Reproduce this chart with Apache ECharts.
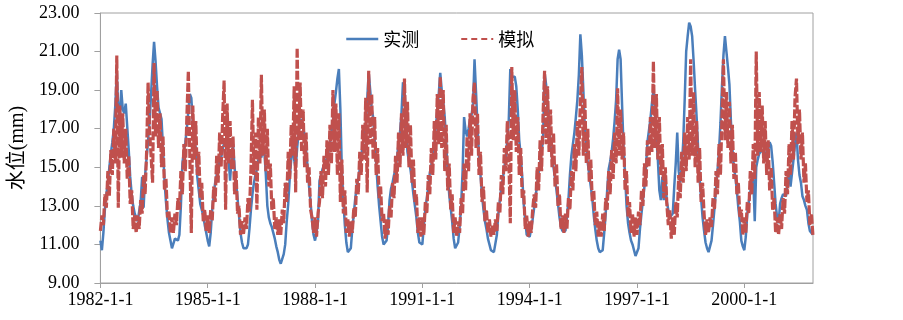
<!DOCTYPE html>
<html>
<head>
<meta charset="utf-8">
<script src="https://cdn.jsdelivr.net/npm/echarts@6/dist/echarts.min.js"></script>
<style>
  html, body { margin: 0; padding: 0; background: #fff; }
  #chart { width: 903px; height: 320px; }
</style>
</head>
<body>
<div id="chart"></div>
<script>
// half-month samples, 24 per year, starting 1982-1-1
const startYear = 1982;
const stepsPerYear = 24;

const xTicks = [1982, 1985, 1988, 1991, 1994, 1997, 2000];
const yTicks = [9, 11, 13, 15, 17, 19, 21, 23];

// 实测 (observed)
const observed = [
  11.2, 10.7, 11.6, 12.8, 13.6, 14.2, 15.0, 15.7, 16.3, 17.0, 18.2, 19.9, 18.0, 17.6, 19.0, 18.0, 17.8, 18.3, 17.1, 15.9, 14.5, 13.6, 13.0, 12.6, // 1982
  12.5, 12.2, 12.3, 13.2, 14.5, 12.9, 14.6, 15.5, 16.4, 17.4, 18.8, 20.3, 21.5, 20.5, 19.2, 18.1, 17.8, 17.5, 16.0, 14.3, 13.2, 12.3, 11.6, 11.2, // 1983
  10.8, 10.9, 11.3, 11.4, 11.2, 11.5, 13.0, 15.2, 15.8, 16.3, 17.0, 17.9, 18.8, 18.6, 17.3, 16.4, 16.0, 14.5, 13.8, 13.1, 12.8, 12.5, 12.0, 11.6, // 1984
  11.2, 10.9, 11.6, 12.8, 13.6, 14.2, 14.6, 15.0, 15.3, 15.5, 15.9, 16.3, 16.5, 16.3, 15.5, 14.3, 15.5, 16.2, 15.0, 14.3, 13.4, 12.5, 11.6, 11.1, // 1985
  10.8, 10.7, 10.8, 11.0, 11.8, 12.8, 13.6, 14.2, 14.6, 14.9, 15.4, 15.8, 15.5, 16.1, 15.8, 14.6, 13.0, 12.4, 12.1, 11.9, 11.6, 11.3, 10.9, 10.6, // 1986
  10.2, 10.0, 10.1, 10.5, 11.0, 12.2, 13.1, 14.4, 15.4, 16.2, 15.4, 14.9, 16.0, 16.8, 17.3, 17.5, 17.1, 16.6, 15.9, 15.0, 14.0, 13.2, 12.2, 11.5, // 1987
  11.2, 11.6, 12.2, 14.3, 14.6, 14.9, 15.1, 15.3, 15.5, 15.8, 16.2, 16.8, 17.4, 18.3, 18.9, 19.6, 20.1, 18.0, 14.8, 13.3, 12.0, 11.1, 10.6, 10.5, // 1988
  10.8, 11.8, 12.6, 13.4, 14.0, 14.4, 14.9, 15.5, 16.2, 16.6, 17.0, 18.5, 19.9, 19.0, 18.0, 17.6, 16.4, 15.2, 14.0, 13.0, 12.2, 11.4, 11.0, 10.9, // 1989
  11.2, 12.0, 13.3, 13.9, 14.2, 14.6, 14.9, 15.5, 16.2, 16.8, 17.8, 19.4, 19.2, 17.4, 15.8, 15.3, 14.9, 14.3, 13.6, 13.0, 12.4, 11.6, 11.1, 11.0, // 1990
  11.0, 12.0, 12.8, 13.4, 14.0, 14.7, 15.1, 15.6, 16.0, 17.1, 17.9, 18.8, 19.9, 19.0, 18.4, 17.6, 16.3, 14.7, 13.6, 12.9, 12.2, 11.3, 10.8, 10.7, // 1991
  11.1, 11.9, 13.0, 14.8, 17.6, 16.9, 16.6, 17.0, 17.5, 17.7, 18.3, 20.6, 18.9, 17.1, 15.6, 14.6, 13.6, 12.8, 12.2, 11.8, 11.3, 11.0, 10.7, 10.6, // 1992
  10.6, 10.5, 11.5, 12.6, 13.3, 14.0, 14.4, 15.0, 15.5, 16.4, 17.5, 20.1, 19.7, 19.8, 19.7, 19.2, 18.0, 16.4, 15.6, 14.5, 13.1, 12.3, 11.5, 11.4, // 1993
  11.4, 11.8, 12.3, 12.9, 13.5, 14.1, 14.7, 15.2, 15.8, 16.5, 19.9, 19.3, 18.0, 17.3, 16.1, 15.5, 15.0, 14.4, 13.8, 13.1, 12.4, 11.9, 11.7, 11.7, // 1994
  11.7, 12.4, 13.3, 14.6, 15.6, 16.2, 16.8, 17.6, 18.5, 19.8, 21.9, 20.8, 19.0, 17.0, 16.0, 15.2, 14.6, 14.0, 13.4, 12.5, 11.8, 11.2, 10.8, 10.6, // 1995
  10.5, 10.7, 11.6, 12.6, 13.8, 14.9, 15.3, 15.8, 16.5, 17.4, 18.5, 20.6, 21.1, 20.6, 18.2, 16.0, 14.6, 13.0, 12.1, 11.6, 11.2, 11.0, 10.7, 10.4, // 1996
  10.4, 10.8, 11.8, 12.6, 13.3, 14.0, 15.0, 16.3, 16.9, 17.5, 18.3, 19.0, 18.0, 16.5, 15.4, 13.8, 13.3, 14.5, 13.3, 14.6, 13.2, 12.8, 12.4, 12.3, // 1997
  12.6, 14.0, 15.2, 16.8, 14.8, 14.2, 15.0, 16.3, 18.5, 21.0, 21.8, 22.5, 22.3, 21.8, 20.5, 19.0, 17.6, 16.0, 14.4, 13.4, 12.4, 11.7, 11.1, 10.8, // 1998
  10.6, 10.5, 11.2, 12.0, 12.9, 13.9, 14.8, 15.8, 17.3, 19.2, 20.8, 21.8, 21.0, 20.2, 19.3, 17.4, 16.0, 15.0, 14.5, 13.8, 12.9, 12.2, 11.2, 10.9, // 1999
  10.7, 11.4, 12.6, 13.2, 13.7, 14.2, 14.5, 12.2, 15.0, 15.4, 15.7, 15.8, 15.9, 15.9, 15.7, 15.6, 15.9, 16.3, 16.1, 15.3, 14.2, 13.1, 12.4, 12.1, // 2000
  13.1, 13.4, 13.6, 13.7, 13.5, 14.3, 14.9, 14.0, 14.7, 15.4, 16.2, 16.8, 15.4, 14.6, 14.2, 13.5, 13.3, 13.0, 12.8, 12.1, 11.7, 11.6, 11.5        // 2001
];

// 模拟 (simulated) - upper/lower edge of the noisy band, read alternately
const simulated = [
  11.7, 12.5, 12.0, 13.6, 12.9, 14.8, 13.5, 15.9, 14.6, 17.0, 15.2, 20.8, 12.9, 18.2, 15.5, 17.8, 15.2, 17.0, 14.4, 15.6, 13.1, 13.8, 11.8, 12.5, // 1982
  11.6, 12.5, 11.8, 13.3, 12.6, 14.6, 13.6, 15.8, 19.4, 16.9, 15.6, 14.2, 20.4, 16.6, 19.0, 16.0, 17.8, 15.0, 16.6, 13.8, 14.4, 12.4, 12.7, 11.6, // 1983
  12.4, 11.6, 12.6, 12.0, 13.4, 12.8, 14.8, 13.6, 16.2, 14.8, 17.6, 20.0, 15.6, 11.6, 18.2, 15.4, 17.4, 14.6, 15.8, 13.4, 14.2, 12.2, 12.8, 11.7, // 1984
  12.5, 11.6, 12.8, 12.2, 14.0, 13.2, 15.6, 14.2, 16.8, 15.0, 17.6, 19.5, 12.8, 18.3, 15.2, 17.4, 14.9, 16.6, 13.6, 14.8, 12.6, 13.0, 11.5, 12.2, // 1985
  11.5, 12.4, 11.8, 13.4, 12.7, 14.9, 18.5, 14.6, 16.8, 12.8, 17.6, 15.2, 19.8, 15.6, 18.0, 14.8, 17.0, 14.0, 15.2, 12.8, 13.4, 11.8, 12.4, 11.5, // 1986
  12.3, 11.5, 12.8, 12.1, 14.2, 13.2, 15.8, 14.4, 17.2, 15.6, 19.2, 13.7, 21.2, 16.4, 19.4, 15.8, 18.0, 15.0, 16.8, 14.2, 15.0, 12.8, 12.4, 11.6, // 1987
  12.4, 11.4, 12.6, 13.2, 14.8, 13.4, 15.6, 14.0, 16.4, 14.6, 17.2, 15.2, 19.0, 15.8, 18.3, 14.6, 17.8, 13.2, 15.4, 12.6, 13.8, 11.6, 12.3, 11.4, // 1988
  12.2, 11.6, 12.9, 12.4, 14.4, 13.6, 15.8, 14.6, 17.2, 15.4, 18.6, 13.7, 20.0, 16.2, 18.8, 15.4, 17.6, 14.6, 16.0, 13.4, 14.0, 12.2, 12.6, 11.3, // 1989
  12.3, 11.5, 13.0, 12.4, 14.2, 13.4, 15.6, 14.2, 16.8, 15.0, 17.8, 15.6, 19.6, 16.0, 18.4, 15.0, 17.2, 14.2, 15.4, 13.2, 13.6, 11.6, 12.4, 11.4, // 1990
  12.4, 11.5, 13.2, 12.6, 14.6, 13.6, 16.0, 14.6, 17.4, 15.4, 18.8, 16.2, 19.7, 16.0, 19.0, 14.8, 17.2, 13.8, 15.2, 12.8, 13.6, 11.6, 12.4, 11.4, // 1991
  12.2, 11.6, 13.4, 12.6, 15.2, 13.8, 16.6, 14.8, 17.8, 15.6, 18.6, 19.4, 16.0, 17.8, 14.6, 15.8, 13.2, 14.0, 12.2, 12.8, 11.6, 12.3, 11.4, 12.0, // 1992
  11.5, 12.3, 11.7, 13.2, 12.6, 14.6, 13.6, 16.0, 14.8, 17.4, 15.6, 12.1, 20.2, 16.4, 19.0, 15.8, 17.6, 14.6, 16.0, 13.4, 13.8, 11.8, 12.5, 11.4, // 1993
  12.2, 11.6, 12.8, 13.6, 12.9, 15.0, 13.8, 16.4, 14.8, 17.8, 20.0, 16.2, 19.2, 15.8, 18.0, 15.0, 16.8, 14.0, 15.2, 13.0, 13.6, 11.8, 12.5, 11.6, // 1994
  12.6, 11.8, 13.4, 12.8, 14.8, 13.8, 16.2, 14.8, 17.4, 15.6, 18.4, 20.2, 15.6, 18.6, 15.2, 17.0, 14.2, 15.4, 13.2, 13.8, 12.0, 12.7, 11.4, 12.2, // 1995
  11.4, 12.6, 11.7, 13.4, 12.8, 14.8, 13.6, 15.9, 14.4, 16.8, 15.2, 19.1, 15.6, 18.0, 15.4, 16.8, 13.8, 14.8, 12.4, 13.2, 11.6, 12.6, 11.4, 12.4, // 1996
  11.5, 12.7, 12.0, 13.8, 13.0, 15.2, 14.0, 16.4, 15.0, 17.6, 15.8, 20.5, 16.0, 18.8, 15.4, 17.6, 14.6, 16.2, 13.4, 15.0, 13.1, 12.0, 12.8, 11.3, // 1997
  12.4, 11.5, 13.2, 12.4, 14.6, 13.4, 15.8, 14.2, 16.8, 14.8, 17.6, 15.4, 20.6, 15.6, 18.9, 15.0, 17.4, 14.2, 16.0, 13.2, 14.2, 12.6, 11.5, 12.3, // 1998
  11.6, 12.4, 11.9, 13.4, 12.8, 14.8, 13.6, 16.2, 14.6, 17.6, 20.6, 16.4, 18.9, 16.0, 18.4, 15.2, 17.2, 14.4, 15.8, 13.6, 14.2, 12.4, 12.8, 11.5, // 1999
  12.4, 11.6, 13.2, 12.6, 14.8, 13.6, 16.2, 14.4, 21.0, 15.6, 18.9, 15.8, 18.2, 15.2, 17.4, 14.6, 16.4, 13.8, 15.0, 12.8, 13.4, 11.6, 12.4, 11.5, // 2000
  12.6, 11.8, 13.4, 12.6, 14.8, 13.6, 16.2, 14.6, 17.4, 15.4, 18.6, 19.6, 16.2, 18.0, 15.4, 16.8, 14.2, 15.2, 13.2, 13.8, 12.0, 12.6, 11.5        // 2001
];

const toPoints = (values) => values.map((v, i) => [startYear + i / stepsPerYear, v]);

const serifFont = "'Liberation Serif', 'Times New Roman', serif";
const cjkFont = "'Noto Sans CJK SC', sans-serif";
const axisGrey = '#a0a0a0';

const chart = echarts.init(document.getElementById('chart'), null, { renderer: 'canvas' });

chart.setOption({
  animation: false,
  backgroundColor: '#fff',
  grid: {
    left: 98, right: 90, top: 13, bottom: 37,
    show: true, borderColor: axisGrey, borderWidth: 1
  },
  legend: {
    left: 340, top: 25,
    itemWidth: 32, itemHeight: 14, itemGap: 41,
    itemStyle: { opacity: 0 },
    textStyle: { fontFamily: cjkFont, fontSize: 18, color: '#000' },
    data: [
      { name: '实测', lineStyle: { width: 2.5 } },
      { name: '模拟', lineStyle: { width: 2, type: [6, 4] } }
    ]
  },
  xAxis: {
    type: 'value',
    min: startYear,
    max: 2001.92,
    axisLine: { lineStyle: { color: axisGrey } },
    axisTick: { show: true, length: 5, customValues: xTicks, lineStyle: { color: axisGrey } },
    axisLabel: {
      customValues: xTicks,
      formatter: (v) => v + '-1-1',
      margin: 8,
      fontFamily: serifFont, fontSize: 18, color: '#000'
    },
    splitLine: { show: false }
  },
  yAxis: {
    type: 'value',
    min: 9,
    max: 23,
    name: '水位(mm)',
    nameLocation: 'middle',
    nameGap: 66,
    nameTextStyle: { fontFamily: serifFont + ", 'Noto Sans CJK SC'", fontSize: 20, color: '#000' },
    axisLine: { show: true, lineStyle: { color: axisGrey } },
    axisTick: { show: true, length: 6, customValues: yTicks, lineStyle: { color: axisGrey } },
    axisLabel: {
      customValues: yTicks,
      formatter: (v) => v.toFixed(2),
      margin: 21,
      fontFamily: serifFont, fontSize: 18, color: '#000'
    },
    splitLine: { show: false }
  },
  series: [
    {
      name: '实测',
      type: 'line',
      data: toPoints(observed),
      symbol: 'none',
      color: '#4a7ebb',
      lineStyle: { color: '#4a7ebb', width: 2.5 },
      z: 2
    },
    {
      name: '模拟',
      type: 'line',
      data: toPoints(simulated),
      symbol: 'none',
      color: '#c0504d',
      lineStyle: { color: '#c0504d', width: 3.2, type: [9, 2] },
      z: 3
    }
  ]
});
</script>
</body>
</html>
